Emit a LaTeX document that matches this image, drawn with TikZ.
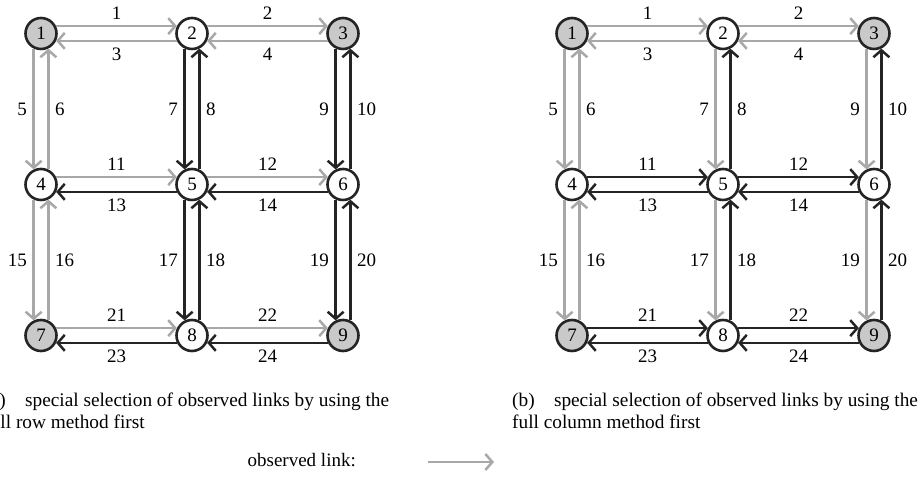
\documentclass[tikz,border=0pt]{standalone}
\usepackage{fontspec}
\setmainfont{Liberation Serif}
\usetikzlibrary{arrows.meta}
\definecolor{obsgray}{gray}{0.66}
\definecolor{linkdark}{gray}{0.14}
\definecolor{fixfill}{gray}{0.79}
\tikzset{
    >={Straight Barb[length=7pt, width=16pt]},
    vert/.style = {circle, draw=linkdark, line width=2.6pt, minimum size=31pt, inner sep=0pt, fill=white},
    fixvert/.style = {vert, fill=fixfill},
    obs/.style = {->, draw=obsgray, line width=2.5pt},
    unobs/.style = {->, draw=linkdark, line width=2.5pt},
    lbl/.style = {inner sep=5.5pt, text=black},
    capt/.style = {anchor=base west, align=left, inner sep=0pt, font=\fontsize{19.3}{21.6}\selectfont},
}

\begin{document}
\begin{tikzpicture}[x=1pt, y=1pt, font=\fontsize{19}{21.6}\selectfont]
    \useasboundingbox (0,0) rectangle (920,502);
    % (a) full row first
    \node[fixvert] (a1) at (41,468.5) {1};
    \node[vert] (a2) at (192,468.5) {2};
    \node[fixvert] (a3) at (343,468.5) {3};
    \node[vert] (a4) at (41,317.5) {4};
    \node[vert] (a5) at (192,317.5) {5};
    \node[vert] (a6) at (343,317.5) {6};
    \node[fixvert] (a7) at (41,166.5) {7};
    \node[vert] (a8) at (192,166.5) {8};
    \node[fixvert] (a9) at (343,166.5) {9};
    \draw[obs] (a1.26) -- node[lbl,above] {1} (a2.154);
    \draw[obs] (a2.206) -- node[lbl,below] {3} (a1.334);
    \draw[obs] (a2.26) -- node[lbl,above] {2} (a3.154);
    \draw[obs] (a3.206) -- node[lbl,below] {4} (a2.334);
    \draw[obs] (a1.244) -- node[lbl,left] {5} (a4.116);
    \draw[obs] (a4.64) -- node[lbl,right] {6} (a1.296);
    \draw[unobs] (a2.244) -- node[lbl,left] {7} (a5.116);
    \draw[unobs] (a5.64) -- node[lbl,right] {8} (a2.296);
    \draw[unobs] (a3.244) -- node[lbl,left] {9} (a6.116);
    \draw[unobs] (a6.64) -- node[lbl,right] {10} (a3.296);
    \draw[obs] (a4.26) -- node[lbl,above] {11} (a5.154);
    \draw[unobs] (a5.206) -- node[lbl,below] {13} (a4.334);
    \draw[obs] (a5.26) -- node[lbl,above] {12} (a6.154);
    \draw[unobs] (a6.206) -- node[lbl,below] {14} (a5.334);
    \draw[obs] (a4.244) -- node[lbl,left] {15} (a7.116);
    \draw[obs] (a7.64) -- node[lbl,right] {16} (a4.296);
    \draw[unobs] (a5.244) -- node[lbl,left] {17} (a8.116);
    \draw[unobs] (a8.64) -- node[lbl,right] {18} (a5.296);
    \draw[unobs] (a6.244) -- node[lbl,left] {19} (a9.116);
    \draw[unobs] (a9.64) -- node[lbl,right] {20} (a6.296);
    \draw[obs] (a7.26) -- node[lbl,above] {21} (a8.154);
    \draw[unobs] (a8.206) -- node[lbl,below] {23} (a7.334);
    \draw[obs] (a8.26) -- node[lbl,above] {22} (a9.154);
    \draw[unobs] (a9.206) -- node[lbl,below] {24} (a8.334);
    \node[capt] (capa) at (-15.8,73.4)
        {(a)\quad special selection of observed links by using the\\full row method first};
    % (b) full column first
    \node[fixvert] (b1) at (572,468.5) {1};
    \node[vert] (b2) at (723,468.5) {2};
    \node[fixvert] (b3) at (874,468.5) {3};
    \node[vert] (b4) at (572,317.5) {4};
    \node[vert] (b5) at (723,317.5) {5};
    \node[vert] (b6) at (874,317.5) {6};
    \node[fixvert] (b7) at (572,166.5) {7};
    \node[vert] (b8) at (723,166.5) {8};
    \node[fixvert] (b9) at (874,166.5) {9};
    \draw[obs] (b1.26) -- node[lbl,above] {1} (b2.154);
    \draw[obs] (b2.206) -- node[lbl,below] {3} (b1.334);
    \draw[obs] (b2.26) -- node[lbl,above] {2} (b3.154);
    \draw[obs] (b3.206) -- node[lbl,below] {4} (b2.334);
    \draw[obs] (b1.244) -- node[lbl,left] {5} (b4.116);
    \draw[obs] (b4.64) -- node[lbl,right] {6} (b1.296);
    \draw[obs] (b2.244) -- node[lbl,left] {7} (b5.116);
    \draw[unobs] (b5.64) -- node[lbl,right] {8} (b2.296);
    \draw[obs] (b3.244) -- node[lbl,left] {9} (b6.116);
    \draw[unobs] (b6.64) -- node[lbl,right] {10} (b3.296);
    \draw[unobs] (b4.26) -- node[lbl,above] {11} (b5.154);
    \draw[unobs] (b5.206) -- node[lbl,below] {13} (b4.334);
    \draw[unobs] (b5.26) -- node[lbl,above] {12} (b6.154);
    \draw[unobs] (b6.206) -- node[lbl,below] {14} (b5.334);
    \draw[obs] (b4.244) -- node[lbl,left] {15} (b7.116);
    \draw[obs] (b7.64) -- node[lbl,right] {16} (b4.296);
    \draw[obs] (b5.244) -- node[lbl,left] {17} (b8.116);
    \draw[unobs] (b8.64) -- node[lbl,right] {18} (b5.296);
    \draw[obs] (b6.244) -- node[lbl,left] {19} (b9.116);
    \draw[unobs] (b9.64) -- node[lbl,right] {20} (b6.296);
    \draw[unobs] (b7.26) -- node[lbl,above] {21} (b8.154);
    \draw[unobs] (b8.206) -- node[lbl,below] {23} (b7.334);
    \draw[unobs] (b8.26) -- node[lbl,above] {22} (b9.154);
    \draw[unobs] (b9.206) -- node[lbl,below] {24} (b8.334);
    \node[capt] (capb) at (512,73.4)
        {(b)\quad special selection of observed links by using the\\full column method first};
    % legend
    \node[anchor=base east, inner sep=0pt] (legobs) at (356,35) {observed link:};
    \coordinate (legfrom) at (428,40);
    \coordinate (legto) at (494,40);
    \draw[obs] (legfrom) -- (legto);
\end{tikzpicture}
\end{document}
